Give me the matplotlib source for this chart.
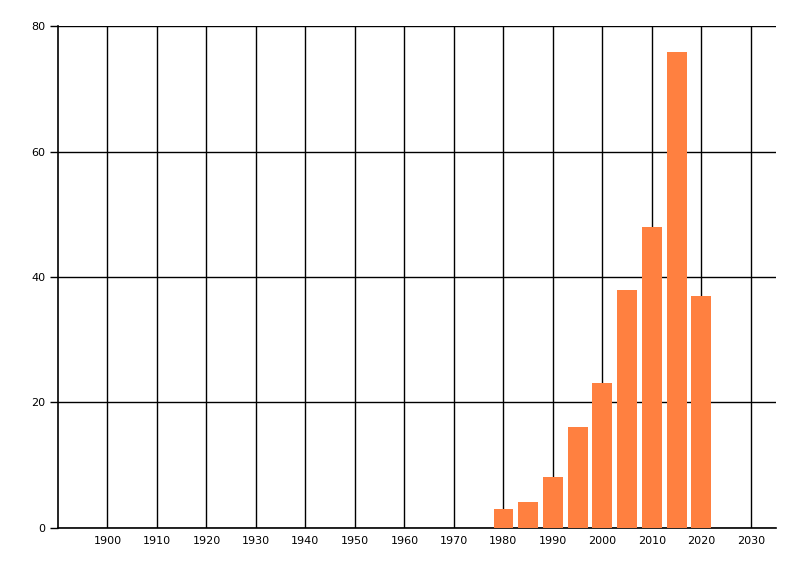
import matplotlib
matplotlib.use('Agg')
import matplotlib.pyplot as plt

# ========== Data ==========
years = [1980, 1985, 1990, 1995, 2000, 2005, 2010, 2015, 2020]
counts = [3, 4, 8, 16, 23, 38, 48, 76, 37]
x_ticks = list(range(1900, 2031, 10))
y_ticks = [0, 20, 40, 60, 80]

# ========== Plot ==========
fig = plt.figure(figsize=(8, 5.76), dpi=100)
ax = fig.add_axes([0.0725, 0.0842, 0.897, 0.8698])

ax.bar(years, counts, width=4, color='#FF8040', zorder=3)

ax.set_xlim(1890, 2035)
ax.set_ylim(0, 80)
ax.set_xticks(x_ticks)
ax.set_yticks(y_ticks)
ax.grid(True, color='black', linewidth=1, zorder=0)
ax.set_axisbelow(True)

for side in ['top', 'right']:
    ax.spines[side].set_visible(False)
for side in ['left', 'bottom']:
    ax.spines[side].set_linewidth(1.2)

ax.tick_params(axis='x', length=0, pad=6, labelsize=8)
ax.tick_params(axis='y', length=6, width=1, pad=3, labelsize=8)

fig.savefig('out.png', dpi=100)
